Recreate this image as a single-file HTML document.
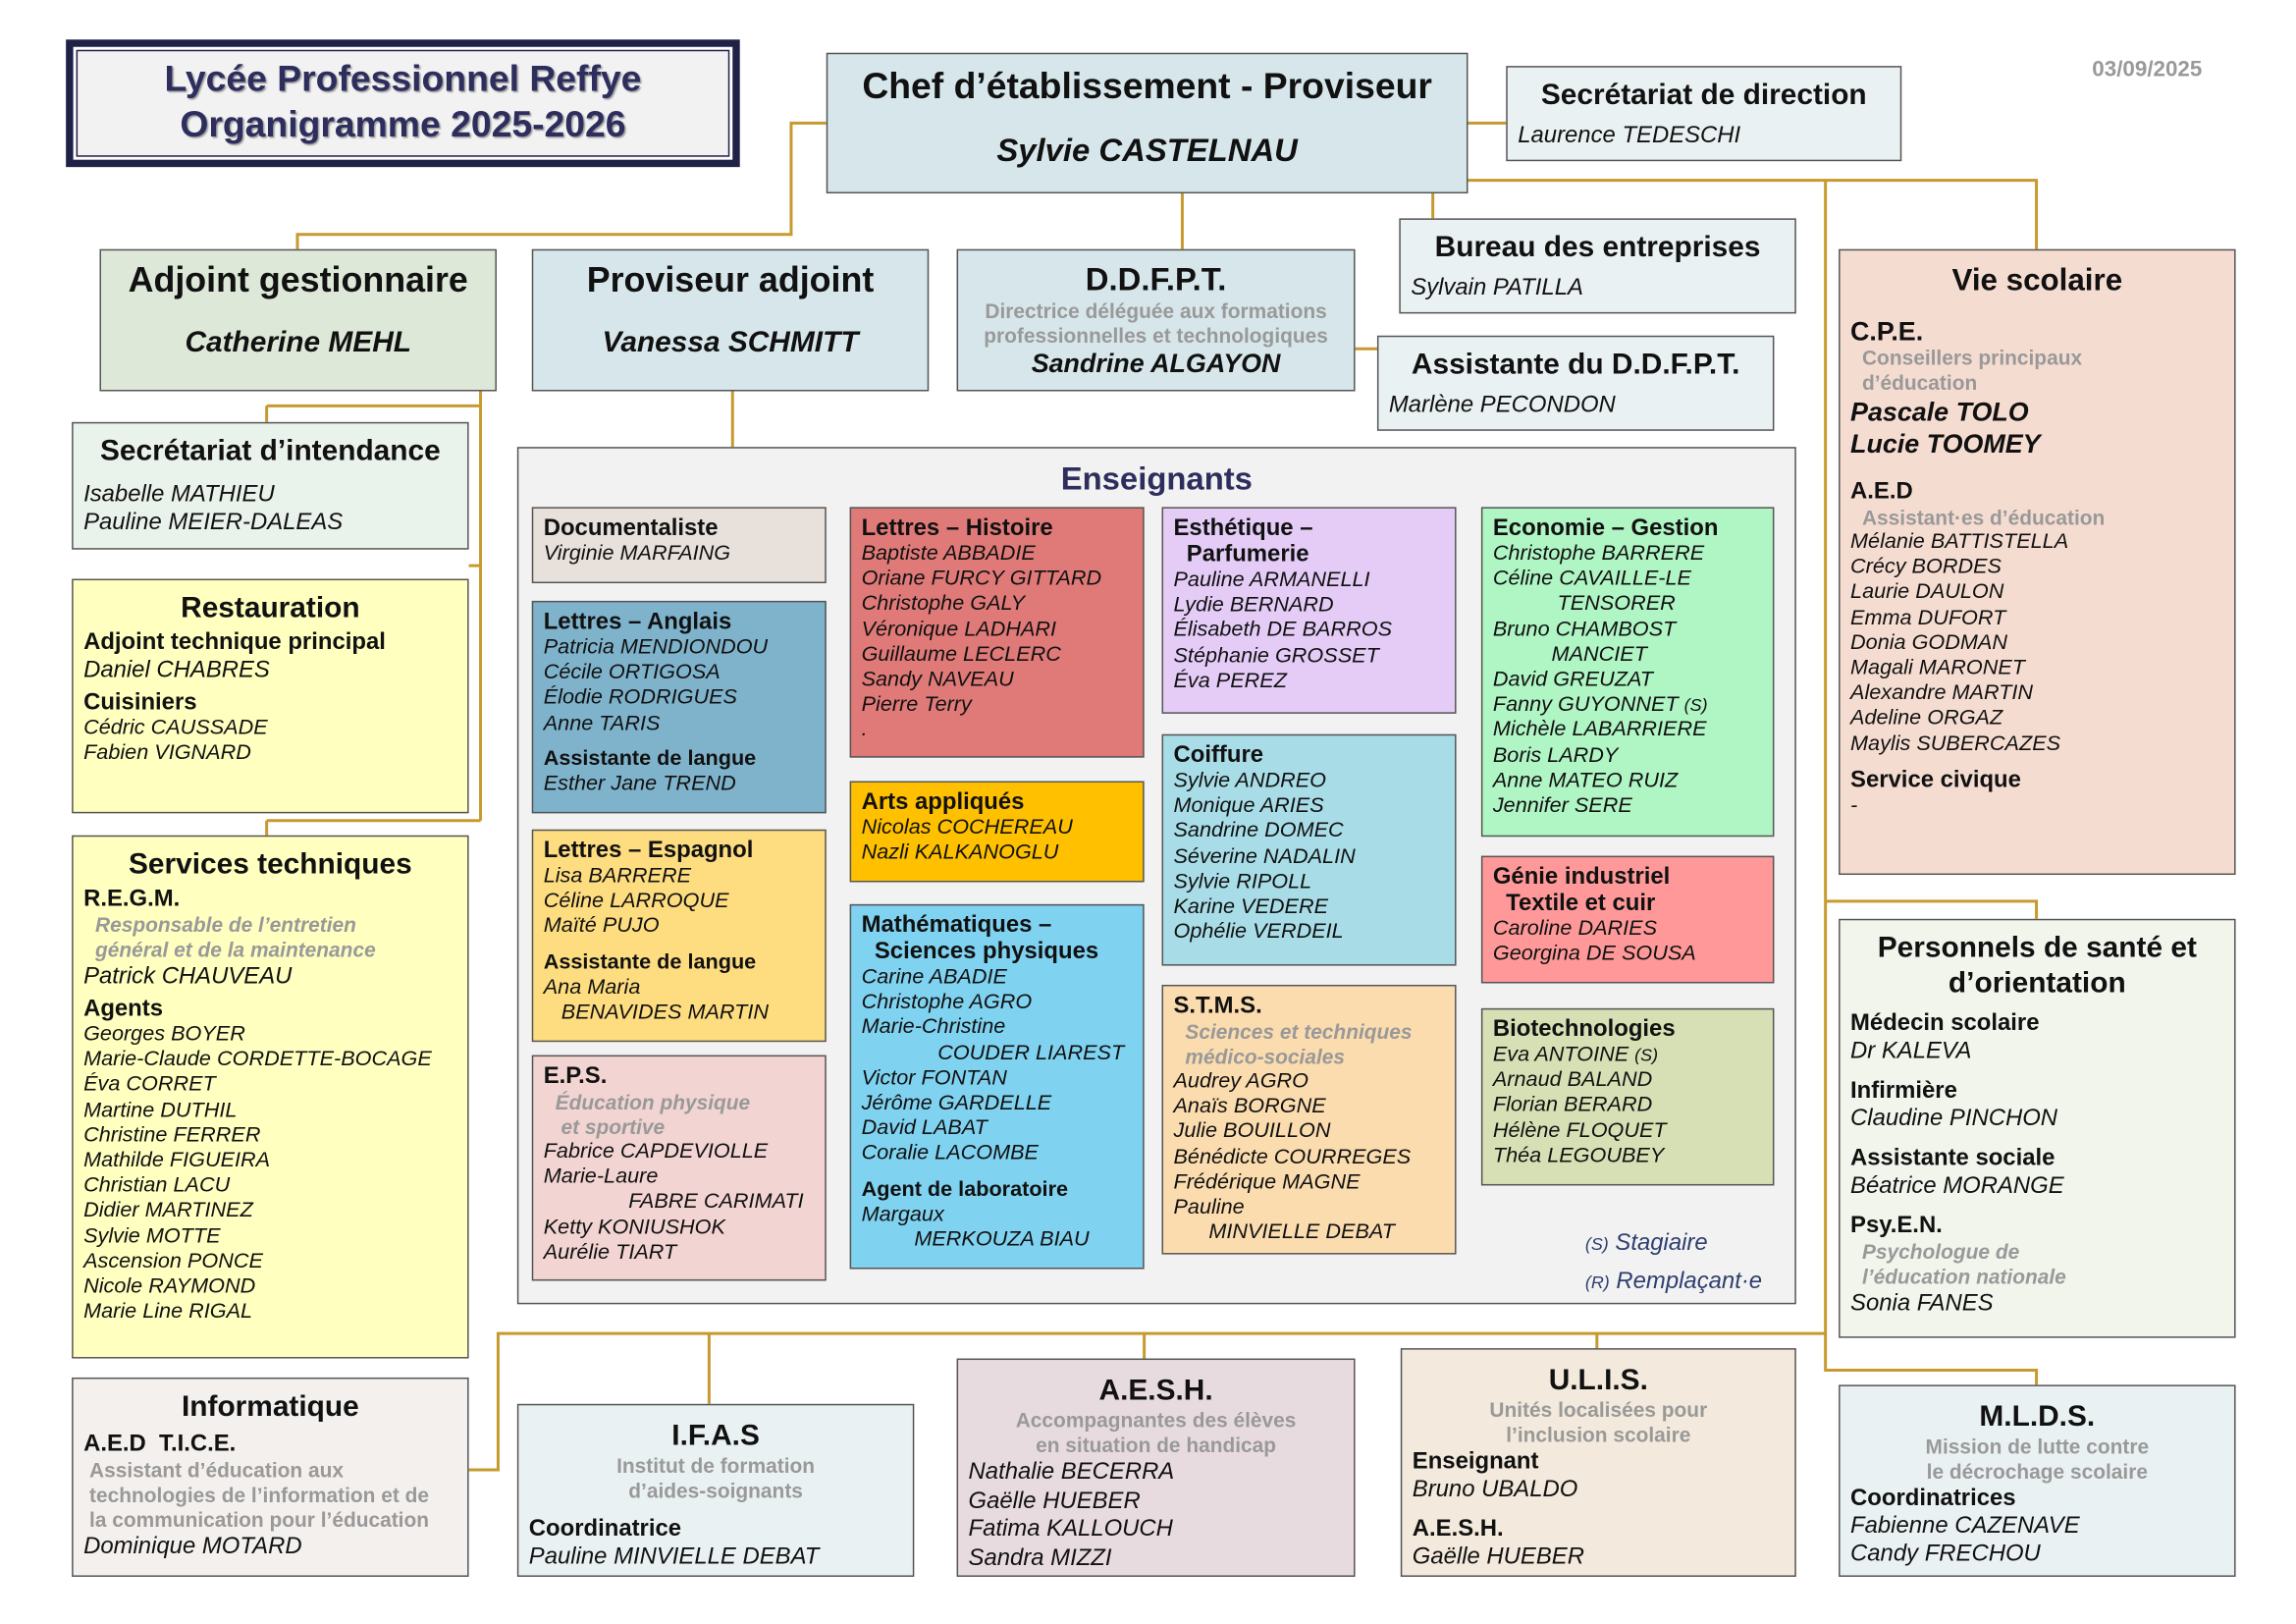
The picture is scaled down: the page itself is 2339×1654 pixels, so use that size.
<!DOCTYPE html>
<html><head><meta charset="utf-8"><style>
*{margin:0;padding:0;box-sizing:border-box}
html,body{width:2339px;height:1654px;overflow:hidden;background:#fff}
#w{position:absolute;left:0;top:0;width:1567px;height:1108px;transform:scale(1.4925);transform-origin:0 0;font-family:"Liberation Sans",Arial,sans-serif;color:#111}
.b{position:absolute;border:1.5px solid #555;padding:5px 7px;overflow:hidden}
.t{font-weight:bold;font-size:16px;line-height:18px}
.n{font-style:italic;font-size:14.5px;line-height:17.2px}
.g{color:#999;font-weight:bold;font-size:14px;line-height:17px}
.c{text-align:center}
.big{font-weight:bold;font-size:24px;text-align:center}
.bn{font-weight:bold;font-style:italic;font-size:20px;text-align:center}
.h{font-weight:bold;font-size:20px;text-align:center;line-height:24px}
.s{font-weight:bold;font-size:16px;line-height:19px}
.m{font-style:italic;font-size:16px;line-height:19px}
svg{position:absolute;left:0;top:0}
</style></head><body><div id="w">
<svg width="1567" height="1108"><g stroke="#c79a2e" stroke-width="2" fill="none">
<path d="M564 84H540V160H203V170"/>
<path d="M1002 84H1028"/>
<path d="M807 132V170"/>
<path d="M978 132V149"/>
<path d="M1002 123H1390V170"/>
<path d="M1246 123V935H1390V945"/>
<path d="M1246 615H1390V627"/>
<path d="M925 238H940"/>
<path d="M500 267V305"/>
<path d="M328 267V560"/>
<path d="M182 277H328M182 277V288"/>
<path d="M320 386H328"/>
<path d="M182 560H328M182 560V570"/>
<path d="M320 1003H340V910H1246"/>
<path d="M484 910V958M781 910V927M1090 910V920"/>
</g></svg>

<div style="position:absolute;left:45px;top:27px;width:460px;height:87px;background:#1f2147;padding:5px">
<div style="width:100%;height:100%;background:#fff;padding:2px"><div style="width:100%;height:100%;background:#f2f2f2;border:1px solid #1f2147;text-align:center;font-weight:bold;font-size:25px;line-height:31px;color:#2e2e5e;padding-top:4px;text-shadow:1px 1px 1px #999">Lycée Professionnel Reffye<br>Organigramme 2025-2026</div></div></div>
<div style="position:absolute;left:1428px;top:39px;color:#999;font-weight:bold;font-size:15px">03/09/2025</div>

<div class="b" style="left:564px;top:36px;width:438px;height:96px;background:#d6e6ea;text-align:center"><div style="font-weight:bold;font-size:25px;line-height:34px">Chef d’établissement - Proviseur</div><div style="font-weight:bold;font-style:italic;font-size:22px;margin-top:14px">Sylvie CASTELNAU</div></div>
<div class="b" style="left:1028px;top:45px;width:270px;height:65px;background:#eaf1f2"><div class="h" style="padding-top:2px">Secrétariat de direction</div><div class="m" style="margin-top:6px">Laurence TEDESCHI</div></div>

<div class="b" style="left:68px;top:170px;width:271px;height:97px;background:#dde8d8"><div class="big" style="margin-top:2px">Adjoint gestionnaire</div><div class="bn" style="margin-top:17px">Catherine MEHL</div></div>
<div class="b" style="left:363px;top:170px;width:271px;height:97px;background:#d6e6ea"><div class="big" style="margin-top:2px">Proviseur adjoint</div><div class="bn" style="margin-top:17px">Vanessa SCHMITT</div></div>
<div class="b" style="left:653px;top:170px;width:272px;height:97px;background:#d6e6ea;text-align:center"><div style="font-weight:bold;font-size:22px;margin-top:2px">D.D.F.P.T.</div><div class="g" style="font-size:14px">Directrice déléguée aux formations<br>professionnelles et technologiques</div><div style="font-weight:bold;font-style:italic;font-size:18px">Sandrine ALGAYON</div></div>
<div class="b" style="left:955px;top:149px;width:271px;height:65px;background:#eaf1f2"><div class="h" style="padding-top:2px">Bureau des entreprises</div><div class="m" style="margin-top:6px">Sylvain PATILLA</div></div>
<div class="b" style="left:940px;top:229px;width:271px;height:65px;background:#eaf1f2"><div class="h" style="padding-top:2px">Assistante du D.D.F.P.T.</div><div class="m" style="margin-top:6px">Marlène PECONDON</div></div>

<div class="b" style="left:49px;top:288px;width:271px;height:87px;background:#eaf2ec"><div class="h" style="margin-top:2px">Secrétariat d’intendance</div><div class="m" style="margin-top:8px">Isabelle MATHIEU<br>Pauline MEIER-DALEAS</div></div>
<div class="b" style="left:49px;top:395px;width:271px;height:160px;background:#ffffc0"><div class="h" style="margin-top:2px">Restauration</div><div class="s" style="margin-top:2px">Adjoint technique principal</div><div class="m">Daniel CHABRES</div><div class="s" style="margin-top:3px">Cuisiniers</div><div class="n">Cédric CAUSSADE<br>Fabien VIGNARD</div></div>
<div class="b" style="left:49px;top:570px;width:271px;height:357px;background:#ffffc0"><div class="h" style="margin-top:2px">Services techniques</div><div class="s" style="margin-top:2px">R.E.G.M.</div><div class="g" style="font-style:italic;padding-left:8px">Responsable de l’entretien<br>général et de la maintenance</div><div class="m">Patrick CHAUVEAU</div><div class="s" style="margin-top:3px">Agents</div><div class="n">Georges BOYER<br>Marie-Claude CORDETTE-BOCAGE<br>Éva CORRET<br>Martine DUTHIL<br>Christine FERRER<br>Mathilde FIGUEIRA<br>Christian LACU<br>Didier MARTINEZ<br>Sylvie MOTTE<br>Ascension PONCE<br>Nicole RAYMOND<br>Marie Line RIGAL</div></div>
<div class="b" style="left:49px;top:940px;width:271px;height:136px;background:#f3f0ee"><div class="h" style="margin-top:2px">Informatique</div><div class="s" style="margin-top:4px">A.E.D&nbsp; T.I.C.E.</div><div class="g" style="padding-left:4px">Assistant d’éducation aux<br>technologies de l’information et de<br>la communication pour l’éducation</div><div class="m">Dominique MOTARD</div></div>

<div class="b" style="left:353px;top:305px;width:873px;height:585px;background:#f2f2f2"><div style="text-align:center;font-weight:bold;font-size:22px;color:#2e2e5e;margin-top:3px">Enseignants</div>
<div style="position:absolute;left:728px;top:530px;font-style:italic;font-size:16px;color:#2e3e6e;line-height:26px"><span style="font-size:12px">(S)</span> Stagiaire<br><span style="font-size:12px">(R)</span> Remplaçant·e</div></div>

<div class="b" style="left:363px;top:346px;width:201px;height:52px;background:#e8e0da"><div class="t">Documentaliste</div><div class="n">Virginie MARFAING</div></div>
<div class="b" style="left:363px;top:410px;width:201px;height:145px;background:#7fb3cc"><div class="t">Lettres – Anglais</div><div class="n">Patricia MENDIONDOU<br>Cécile ORTIGOSA<br>Élodie RODRIGUES<br>Anne TARIS</div><div class="t" style="font-size:14.5px;margin-top:6px">Assistante de langue</div><div class="n">Esther Jane TREND</div></div>
<div class="b" style="left:363px;top:566px;width:201px;height:145px;background:#fedd80"><div class="t">Lettres – Espagnol</div><div class="n">Lisa BARRERE<br>Céline LARROQUE<br>Maïté PUJO</div><div class="t" style="font-size:14.5px;margin-top:6px">Assistante de langue</div><div class="n">Ana Maria<br>&nbsp;&nbsp;&nbsp;BENAVIDES MARTIN</div></div>
<div class="b" style="left:363px;top:720px;width:201px;height:154px;background:#f2d4d2"><div class="t">E.P.S.</div><div class="g" style="font-style:italic;padding-left:8px">Éducation physique<br>&nbsp;et sportive</div><div class="n">Fabrice CAPDEVIOLLE<br>Marie-Laure<br><span style="padding-left:58px">FABRE CARIMATI</span><br>Ketty KONIUSHOK<br>Aurélie TIART</div></div>

<div class="b" style="left:580px;top:346px;width:201px;height:171px;background:#e07a78"><div class="t">Lettres – Histoire</div><div class="n">Baptiste ABBADIE<br>Oriane FURCY GITTARD<br>Christophe GALY<br>Véronique LADHARI<br>Guillaume LECLERC<br>Sandy NAVEAU<br>Pierre Terry<br>.</div></div>
<div class="b" style="left:580px;top:533px;width:201px;height:69px;background:#ffc000"><div class="t">Arts appliqués</div><div class="n">Nicolas COCHEREAU<br>Nazli KALKANOGLU</div></div>
<div class="b" style="left:580px;top:617px;width:201px;height:249px;background:#7fd2f0"><div class="t">Mathématiques –<br>&nbsp;&nbsp;Sciences physiques</div><div class="n">Carine ABADIE<br>Christophe AGRO<br>Marie-Christine<br><span style="padding-left:52px">COUDER LIAREST</span><br>Victor FONTAN<br>Jérôme GARDELLE<br>David LABAT<br>Coralie LACOMBE</div><div class="t" style="font-size:14.5px;margin-top:6px">Agent de laboratoire</div><div class="n">Margaux<br><span style="padding-left:36px">MERKOUZA BIAU</span></div></div>

<div class="b" style="left:793px;top:346px;width:201px;height:141px;background:#e4ccf7"><div class="t">Esthétique –<br>&nbsp;&nbsp;Parfumerie</div><div class="n">Pauline ARMANELLI<br>Lydie BERNARD<br>Élisabeth DE BARROS<br>Stéphanie GROSSET<br>Éva PEREZ</div></div>
<div class="b" style="left:793px;top:501px;width:201px;height:158px;background:#a8dde8"><div class="t">Coiffure</div><div class="n">Sylvie ANDREO<br>Monique ARIES<br>Sandrine DOMEC<br>Séverine NADALIN<br>Sylvie RIPOLL<br>Karine VEDERE<br>Ophélie VERDEIL</div></div>
<div class="b" style="left:793px;top:672px;width:201px;height:184px;background:#fbdcae"><div class="t">S.T.M.S.</div><div class="g" style="font-style:italic;padding-left:8px">Sciences et techniques<br>médico-sociales</div><div class="n">Audrey AGRO<br>Anaïs BORGNE<br>Julie BOUILLON<br>Bénédicte COURREGES<br>Frédérique MAGNE<br>Pauline<br><span style="padding-left:24px">MINVIELLE DEBAT</span></div></div>

<div class="b" style="left:1011px;top:346px;width:200px;height:225px;background:#b0f5c4"><div class="t">Economie – Gestion</div><div class="n">Christophe BARRERE<br>Céline CAVAILLE-LE<br><span style="padding-left:44px">TENSORER</span><br>Bruno CHAMBOST<br><span style="padding-left:40px">MANCIET</span><br>David GREUZAT<br>Fanny GUYONNET <span style="font-size:12px">(S)</span><br>Michèle LABARRIERE<br>Boris LARDY<br>Anne MATEO RUIZ<br>Jennifer SERE</div></div>
<div class="b" style="left:1011px;top:584px;width:200px;height:87px;background:#ff9999"><div class="t">Génie industriel<br>&nbsp;&nbsp;Textile et cuir</div><div class="n">Caroline DARIES<br>Georgina DE SOUSA</div></div>
<div class="b" style="left:1011px;top:688px;width:200px;height:121px;background:#d6e0b4"><div class="t">Biotechnologies</div><div class="n">Eva ANTOINE <span style="font-size:12px">(S)</span><br>Arnaud BALAND<br>Florian BERARD<br>Hélène FLOQUET<br>Théa LEGOUBEY</div></div>

<div class="b" style="left:1255px;top:170px;width:271px;height:427px;background:#f5dcd0"><div class="h" style="font-size:21px;margin-top:4px">Vie scolaire</div><div class="s" style="font-size:18px;margin-top:13px">C.P.E.</div><div class="g" style="padding-left:8px">Conseillers principaux<br>d’éducation</div><div style="font-weight:bold;font-style:italic;font-size:18px;line-height:22px">Pascale TOLO<br>Lucie TOOMEY</div><div class="s" style="margin-top:12px">A.E.D</div><div class="g" style="padding-left:8px">Assistant·es d’éducation</div><div class="n">Mélanie BATTISTELLA<br>Crécy BORDES<br>Laurie DAULON<br>Emma DUFORT<br>Donia GODMAN<br>Magali MARONET<br>Alexandre MARTIN<br>Adeline ORGAZ<br>Maylis SUBERCAZES</div><div class="s" style="margin-top:6px">Service civique</div><div class="n">-</div></div>
<div class="b" style="left:1255px;top:627px;width:271px;height:286px;background:#f1f5ec"><div class="h" style="margin-top:2px">Personnels de santé et<br>d’orientation</div><div class="s" style="margin-top:6px">Médecin scolaire</div><div class="m">Dr KALEVA</div><div class="s" style="margin-top:8px">Infirmière</div><div class="m">Claudine PINCHON</div><div class="s" style="margin-top:8px">Assistante sociale</div><div class="m">Béatrice MORANGE</div><div class="s" style="margin-top:8px">Psy.E.N.</div><div class="g" style="font-style:italic;padding-left:8px">Psychologue de<br>l’éducation nationale</div><div class="m">Sonia FANES</div></div>
<div class="b" style="left:1255px;top:945px;width:271px;height:131px;background:#eaf1f2"><div class="h" style="margin-top:4px">M.L.D.S.</div><div class="g c">Mission de lutte contre<br>le décrochage scolaire</div><div class="s">Coordinatrices</div><div class="m">Fabienne CAZENAVE<br>Candy FRECHOU</div></div>

<div class="b" style="left:353px;top:958px;width:271px;height:118px;background:#eaf1f2"><div class="h" style="margin-top:4px">I.F.A.S</div><div class="g c">Institut de formation<br>d’aides-soignants</div><div class="s" style="margin-top:8px">Coordinatrice</div><div class="m">Pauline MINVIELLE DEBAT</div></div>
<div class="b" style="left:653px;top:927px;width:272px;height:149px;background:#e8dbe0"><div class="h" style="margin-top:4px">A.E.S.H.</div><div class="g c">Accompagnantes des élèves<br>en situation de handicap</div><div class="m" style="line-height:19.5px">Nathalie BECERRA<br>Gaëlle HUEBER<br>Fatima KALLOUCH<br>Sandra MIZZI</div></div>
<div class="b" style="left:956px;top:920px;width:270px;height:156px;background:#f3e9dc"><div class="h" style="margin-top:4px">U.L.I.S.</div><div class="g c">Unités localisées pour<br>l’inclusion scolaire</div><div class="s">Enseignant</div><div class="m">Bruno UBALDO</div><div class="s" style="margin-top:8px">A.E.S.H.</div><div class="m">Gaëlle HUEBER</div></div>
</div></body></html>
